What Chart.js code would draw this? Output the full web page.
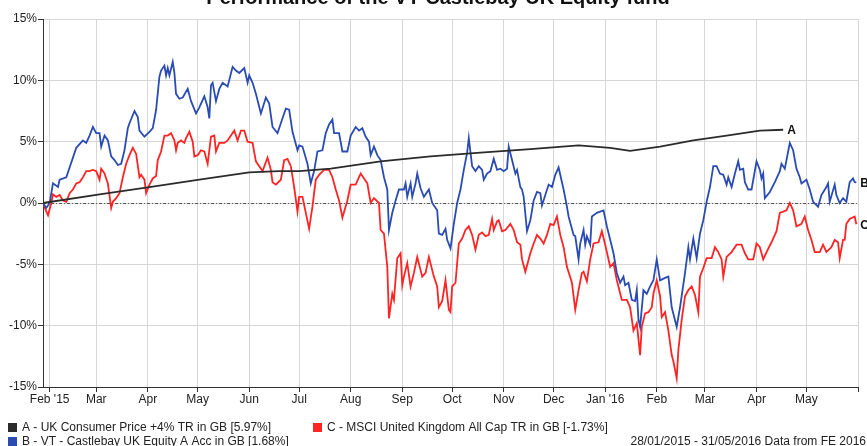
<!DOCTYPE html>
<html>
<head>
<meta charset="utf-8">
<script src="https://cdn.jsdelivr.net/npm/chart.js@4.4.1/dist/chart.umd.min.js"></script>
<style>
  html, body { margin: 0; padding: 0; background: #fff; }
  #wrap { width: 867px; height: 446px; }
</style>
</head>
<body>
<div id="wrap"><canvas id="perf" width="867" height="446"></canvas></div>
<script>
// x values are days counted from 28/01/2015
var monthTicks = [4, 32, 63, 93, 124, 154, 185, 216, 246, 277, 307, 338, 369, 398, 429, 459, 490];
var monthLabels = ["Feb '15", "Mar", "Apr", "May", "Jun", "Jul", "Aug", "Sep", "Oct", "Nov", "Dec", "Jan '16", "Feb", "Mar", "Apr", "May", ""];

var titleText = "Performance of the VT Castlebay UK Equity fund";
var seriesNames = [
    "A - UK Consumer Price +4% TR in GB [5.97%]",
    "B - VT - Castlebay UK Equity A Acc in GB [1.68%]",
    "C - MSCI United Kingdom All Cap TR in GB [-1.73%]"
];
var endLetters = ["A", "B", "C"];
var sourceText = "28/01/2015 - 31/05/2016 Data from FE 2016";

// A - UK Consumer Price +4%
var seriesA = [[0,0],[34,0.7],[64,1.3],[94,1.9],[124,2.5],[142,2.6],[154,2.6],[173,2.8],[203,3.4],[233,3.8],
    [263,4.1],[293,4.4],[322,4.7],[341,4.5],[353,4.25],[371,4.6],[391,5.1],[411,5.5],[431,5.9],[445,5.97]];

// B - VT Castlebay UK Equity
var seriesB = [[0,0],[2,-0.4],[4,0],[6,1.6],[9,1.3],[10,1.9],[14,2.1],[16,2.9],[18,3.7],[20,4.5],[24,5.1],[26,4.9],
    [28,5.5],[30,6.2],[32,5.7],[34,5.7],[35,4.6],[37,5.5],[39,5.1],[41,3.8],[43,3.5],[45,3.1],[47,3.2],[49,4.3],
    [51,6.1],[52,6.5],[55,7.5],[57,7.0],[58,5.9],[61,5.4],[64,5.8],[66,6.1],[68,7.6],[70,10.3],[71,10.8],[73,11.2],
    [74,10.4],[75,11.0],[76,10.4],[78,11.5],[79,10.6],[80,8.9],[82,8.5],[84,8.6],[87,9.3],[89,8.3],[92,7.3],[94,7.8],
    [97,8.7],[99,7.8],[100,6.9],[101,9.6],[102,9.8],[104,8.3],[106,9.3],[108,9.8],[111,9.5],[114,11.1],[116,10.8],
    [118,10.6],[121,11.0],[123,9.8],[124,10.4],[126,9.8],[128,8.9],[131,7.3],[134,8.6],[136,8.1],[138,6.2],[141,5.7],
    [143,6.5],[146,7.7],[148,7.6],[150,5.8],[153,4.3],[154,4.7],[156,4.6],[159,3.2],[161,1.6],[163,2.6],[165,4.2],
    [168,4.3],[170,5.7],[172,6.4],[174,6.8],[175,5.7],[178,5.7],[180,4.2],[183,4.2],[185,5.5],[188,6.2],[190,5.9],
    [192,6.1],[194,5.4],[196,5.0],[197,3.9],[199,4.6],[201,3.9],[203,3.5],[205,2.1],[207,1.1],[208,-2.2],[210,-0.8],
    [212,0.2],[214,1.1],[217,1.1],[218,1.6],[219,0.5],[221,1.6],[222,0.5],[224,1.6],[225,2.4],[227,1.2],[229,0.5],
    [232,1.1],[234,0],[237,-0.6],[238,-2.5],[240,-2.6],[242,-2.1],[243,-3.0],[245,-3.7],[247,-1.7],[249,0],[251,1.1],
    [253,2.7],[255,4.1],[256,5.3],[258,3.0],[260,2.6],[262,3.0],[264,2.7],[265,1.9],[267,2.4],[269,2.6],[271,3.6],
    [273,2.7],[275,2.8],[277,2.6],[279,2.8],[280,4.6],[282,3.5],[284,2.4],[285,2.7],[287,1.3],[288,1.1],[289,0.5],
    [291,-2.3],[293,-1.4],[295,0.2],[297,0.9],[299,0.8],[300,-0.2],[302,0.65],[304,1.5],[306,1.3],[308,2.3],[310,2.9],
    [313,1.1],[315,-0.3],[316,-1.1],[319,-2.6],[320,-2.7],[322,-4.6],[323,-3.3],[325,-2.2],[326,-3.4],[327,-2.7],
    [329,-3.4],[330,-1.1],[333,-0.8],[337,-0.6],[339,-1.9],[341,-3.0],[343,-4.1],[345,-5.7],[347,-6.5],[349,-6.0],
    [350,-6.7],[352,-6.5],[354,-7.9],[356,-8.0],[357,-7.1],[358,-9.5],[359,-10.1],[361,-7.1],[363,-7.4],[365,-6.8],
    [367,-6.3],[369,-4.6],[371,-6.3],[374,-6.1],[376,-6.0],[378,-8.5],[381,-10.1],[383,-8.5],[386,-5.7],[388,-3.6],
    [389,-4.6],[391,-2.9],[393,-4.5],[395,-2.5],[397,-1.4],[399,0.1],[401,1.3],[403,3.0],[405,3.0],[407,2.4],[409,2.3],
    [411,1.5],[412,2.1],[414,1.3],[416,2.4],[418,3.4],[419,2.7],[421,2.8],[422,1.7],[424,1.1],[426,1.1],[429,3.4],
    [431,2.7],[432,2.0],[433,2.4],[434,0.4],[437,0.9],[440,1.7],[443,2.6],[444,3.2],[446,2.8],[448,4.2],[449,4.9],
    [451,4.3],[453,2.8],[455,2.1],[456,1.6],[459,1.9],[461,1.1],[463,0.1],[466,-0.3],[468,0.65],[471,1.3],[472,1.6],
    [473,0.1],[476,1.5],[477,0.65],[479,0],[481,0.4],[483,0.1],[485,1.7],[487,2.0],[488,1.7],[489,1.68]];

// C - MSCI United Kingdom All Cap
var seriesC = [[0,0],[2,-0.7],[3,-1.0],[5,0],[6,0.7],[8,0.5],[10,0.65],[12,0.2],[14,0.1],[16,0.8],[18,1.1],[20,1.6],
    [22,1.7],[24,2.1],[26,2.6],[28,2.6],[30,2.7],[32,2.6],[34,1.9],[35,2.8],[37,2.4],[39,1.6],[41,-0.4],[42,0.1],
    [44,0.4],[46,0.8],[48,2.1],[50,3.2],[52,3.9],[54,4.5],[56,4.0],[58,2.1],[59,2.3],[61,1.9],[62,0.8],[64,1.5],
    [66,2.0],[68,2.2],[69,3.5],[71,4.2],[73,5.5],[75,5.5],[77,5.7],[79,5.1],[80,4.3],[81,4.9],[83,5.1],[85,4.9],
    [86,5.3],[88,5.8],[90,5.0],[91,3.8],[93,3.9],[95,4.3],[97,4.2],[99,3.2],[101,5.4],[103,5.5],[104,4.2],[106,4.9],
    [109,4.9],[111,5.1],[113,5.5],[115,5.9],[117,5.1],[119,5.9],[121,5.9],[123,5.0],[126,4.9],[128,3.4],[130,3.0],
    [132,2.6],[135,3.7],[137,2.7],[138,1.7],[140,1.5],[143,1.9],[145,3.5],[147,3.6],[149,3.0],[151,1.3],[153,-0.7],
    [154,0.5],[156,0.5],[158,-0.8],[160,-2.1],[162,-0.3],[164,1.9],[166,2.3],[169,2.7],[172,2.7],[174,2.1],[176,1.1],
    [178,0.2],[180,-1.2],[183,0.2],[185,1.5],[188,1.5],[190,2.1],[191,2.4],[193,2.0],[195,1.6],[197,0],[199,0.4],
    [202,0],[203,-2.2],[205,-2.5],[207,-5.2],[208,-9.4],[210,-7.4],[211,-7.9],[213,-4.5],[215,-4.1],[216,-6.7],
    [217,-6.0],[219,-4.9],[221,-6.8],[223,-5.7],[225,-4.4],[228,-6.0],[230,-5.7],[232,-4.4],[235,-6.0],[237,-6.8],
    [238,-8.5],[240,-8.0],[242,-6.3],[244,-8.7],[245,-8.9],[246,-6.8],[248,-6.5],[249,-4.9],[250,-3.3],[252,-2.9],
    [254,-2.2],[256,-1.9],[258,-2.6],[260,-3.8],[262,-2.6],[264,-2.4],[266,-2.7],[268,-2.6],[270,-1.3],[271,-2.2],
    [273,-1.5],[274,-1.4],[276,-2.3],[278,-2.2],[281,-1.7],[283,-2.2],[285,-3.2],[287,-3.4],[288,-4.6],[290,-5.6],
    [293,-4.1],[295,-3.3],[297,-2.6],[299,-2.9],[301,-3.3],[303,-2.6],[305,-1.7],[307,-1.8],[309,-1.1],[311,-2.6],
    [313,-3.6],[315,-5.2],[318,-6.5],[320,-8.7],[322,-7.1],[324,-5.7],[325,-5.6],[327,-6.4],[329,-4.6],[331,-3.3],
    [334,-3.2],[336,-2.3],[338,-3.4],[341,-5.2],[343,-4.9],[345,-6.3],[348,-7.9],[351,-7.9],[353,-8.5],[355,-10.4],
    [357,-9.8],[359,-12.4],[360,-10.1],[362,-9.0],[364,-8.9],[366,-8.5],[367,-7.4],[369,-6.3],[371,-7.6],[372,-9.3],
    [374,-8.9],[376,-10.4],[378,-12.4],[379,-12.9],[381,-14.3],[382,-12.0],[384,-9.5],[386,-7.6],[388,-7.1],[390,-6.8],
    [392,-7.5],[394,-8.9],[395,-6.0],[397,-5.3],[399,-4.5],[402,-4.5],[404,-3.6],[406,-4.0],[408,-4.6],[409,-6.0],
    [411,-4.4],[414,-4.0],[417,-3.4],[420,-3.4],[422,-4.1],[424,-4.6],[427,-4.6],[429,-3.3],[431,-3.6],[433,-4.6],
    [435,-4.0],[438,-3.2],[441,-2.3],[443,-0.8],[445,-0.7],[447,-0.6],[449,0],[451,-0.6],[453,-1.9],[456,-1.7],
    [458,-1.1],[460,-2.2],[462,-3.0],[464,-4.0],[467,-4.0],[469,-3.4],[471,-4.0],[474,-3.6],[476,-3.0],[478,-3.2],
    [479,-4.5],[481,-3.0],[482,-3.0],[483,-1.7],[485,-1.3],[488,-1.1],[489,-1.73]];

var seriesColours = ["#2b2b2b", "#2a4cb2", "#ff2424"];
var fontFamily = "'Liberation Sans', Arial, sans-serif";

function toPoints(pairs) {
    return pairs.map(function (p) { return { x: p[0], y: p[1] }; });
}

// title, zero line, end letters and legend are drawn by hand
var extrasPlugin = {
    id: "extras",
    beforeDatasetsDraw: function (chart) {
        var ctx = chart.ctx;
        var area = chart.chartArea;
        var y0 = chart.scales.y.getPixelForValue(0);
        ctx.save();
        ctx.strokeStyle = "#555";
        ctx.lineWidth = 1;
        ctx.setLineDash([3, 2, 1, 2]);
        ctx.beginPath();
        ctx.moveTo(area.left, Math.round(y0) + 0.5);
        ctx.lineTo(area.right, Math.round(y0) + 0.5);
        ctx.stroke();
        ctx.restore();
    },
    afterDraw: function (chart) {
        var ctx = chart.ctx;
        ctx.save();

        // title (cut off at the top like the original)
        ctx.fillStyle = "#111";
        ctx.font = "bold 20px " + fontFamily;
        ctx.textAlign = "center";
        ctx.textBaseline = "alphabetic";
        ctx.fillText(titleText, 438, 4);

        // letters at the end of each line
        ctx.font = "bold 12px " + fontFamily;
        ctx.textAlign = "left";
        ctx.textBaseline = "middle";
        chart.data.datasets.forEach(function (ds, i) {
            var meta = chart.getDatasetMeta(i);
            var last = meta.data[meta.data.length - 1];
            ctx.fillStyle = "#111";
            ctx.fillText(endLetters[i], last.x + 4, last.y + 1);
        });

        // legend
        ctx.font = "12px " + fontFamily;
        var slots = [[8, 428], [8, 442], [313, 428]];
        seriesNames.forEach(function (name, i) {
            ctx.fillStyle = seriesColours[i];
            ctx.fillRect(slots[i][0], slots[i][1] - 5, 9, 9);
            ctx.fillStyle = "#222";
            ctx.fillText(name, slots[i][0] + 14, slots[i][1]);
        });

        ctx.textAlign = "right";
        ctx.fillText(sourceText, 866, 442);
        ctx.restore();
    }
};

var ctx = document.getElementById("perf").getContext("2d");
new Chart(ctx, {
    type: "line",
    data: {
        datasets: [
            { label: seriesNames[0], data: toPoints(seriesA), borderColor: seriesColours[0] },
            { label: seriesNames[1], data: toPoints(seriesB), borderColor: seriesColours[1] },
            { label: seriesNames[2], data: toPoints(seriesC), borderColor: seriesColours[2] }
        ]
    },
    options: {
        responsive: false,
        devicePixelRatio: 1,
        animation: false,
        layout: { padding: { top: 19, right: 9, left: 0, bottom: 0 } },
        elements: {
            line: { borderWidth: 1.8, tension: 0, fill: false },
            point: { radius: 0 }
        },
        plugins: {
            legend: { display: false },
            tooltip: { enabled: false }
        },
        scales: {
            x: {
                type: "linear",
                min: 0,
                max: 490,
                afterBuildTicks: function (scale) {
                    scale.ticks = monthTicks.map(function (v) { return { value: v }; });
                },
                afterFit: function (scale) { scale.height = 59; },
                grid: { color: "#d6d6d6", lineWidth: 1, tickColor: "#333", tickLength: 5 },
                border: { display: true, color: "#333", width: 1 },
                ticks: {
                    autoSkip: false,
                    maxRotation: 0,
                    padding: 0,
                    color: "#222",
                    font: { family: fontFamily, size: 12 },
                    callback: function (value) {
                        var i = monthTicks.indexOf(value);
                        return i >= 0 ? monthLabels[i] : "";
                    }
                }
            },
            y: {
                min: -15,
                max: 15,
                afterFit: function (scale) { scale.width = 43; },
                grid: { color: "#d6d6d6", lineWidth: 1, tickColor: "#333", tickLength: 5 },
                border: { display: true, color: "#333", width: 1 },
                ticks: {
                    stepSize: 5,
                    padding: 1,
                    color: "#222",
                    font: { family: fontFamily, size: 12 },
                    callback: function (value) { return value + "%"; }
                }
            }
        }
    },
    plugins: [extrasPlugin]
});
</script>
</body>
</html>
